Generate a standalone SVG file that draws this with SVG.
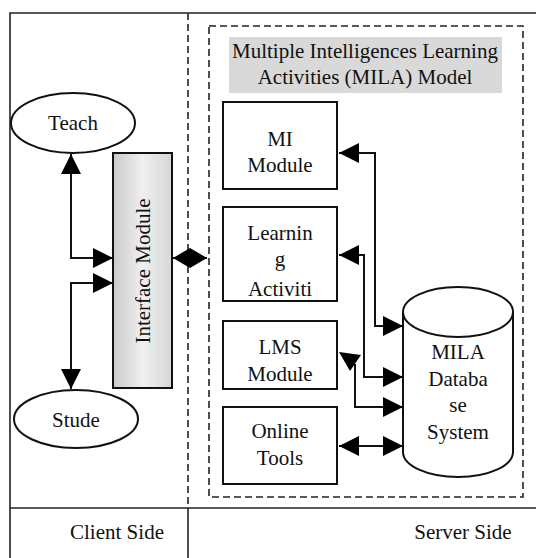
<svg xmlns="http://www.w3.org/2000/svg" width="536" height="558" viewBox="0 0 536 558" font-family="'Liberation Serif', 'DejaVu Serif', serif">
  <style>
    text { font-family: 'Liberation Serif', 'DejaVu Serif', serif; font-size: 21px; fill: #111; text-anchor: middle; }
    .frame { fill: none; stroke: #222; stroke-width: 1.6; }
    .dash { fill: none; stroke: #222; stroke-width: 1.6; stroke-dasharray: 7 4; }
    .box { fill: #fff; stroke: #111; stroke-width: 2; }
    .wire { fill: none; stroke: #111; stroke-width: 2; }
    .tip { fill: #000; }
  </style>
  <defs>
    <linearGradient id="ifaceFill" x1="0" y1="0" x2="1" y2="0">
      <stop offset="0" stop-color="#c9c9c9"/>
      <stop offset="0.5" stop-color="#f0f0f0"/>
      <stop offset="1" stop-color="#d6d6d6"/>
    </linearGradient>
    <marker id="head" markerUnits="userSpaceOnUse" markerWidth="20" markerHeight="20" refX="20" refY="10" orient="auto-start-reverse">
      <path d="M0,0 L20,10 L0,20 Z" fill="#000"/>
    </marker>
    <marker id="halfDiamond" markerUnits="userSpaceOnUse" markerWidth="17" markerHeight="20" refX="17" refY="10" orient="auto-start-reverse">
      <path d="M0,0 L17,10 L0,20 Z" fill="#000"/>
    </marker>
    <clipPath id="learnClip">
      <rect x="224" y="208" width="112" height="92"/>
    </clipPath>
  </defs>

  <!-- page frame and side dividers -->
  <g id="frame">
    <path class="frame" d="M10,558 L10,13 L536,13"/>
    <path class="frame" d="M10,508 L536,508"/>
    <path class="frame" d="M188,508 L188,558"/>
    <path class="dash" d="M188,13 L188,508"/>
    <rect class="dash" x="209" y="26" width="314" height="471"/>
  </g>

  <!-- side labels -->
  <g id="client-side">
    <text x="117" y="539">Client Side</text>
  </g>
  <g id="server-side">
    <text x="463" y="539">Server Side</text>
  </g>

  <!-- model title -->
  <g id="title">
    <rect x="229" y="37" width="273" height="56" fill="#d9d9d9"/>
    <text x="365" y="58">Multiple Intelligences Learning</text>
    <text x="365" y="84">Activities (MILA) Model</text>
  </g>

  <!-- client side actors -->
  <g id="teacher">
    <ellipse class="box" cx="73" cy="123" rx="62" ry="30"/>
    <text x="73" y="130">Teach</text>
  </g>
  <g id="student">
    <ellipse class="box" cx="76" cy="419" rx="62" ry="29"/>
    <text x="76" y="427">Stude</text>
  </g>

  <!-- interface module -->
  <g id="interface-module">
    <rect x="113" y="153" width="59" height="235" fill="url(#ifaceFill)" stroke="#111" stroke-width="2"/>
    <text transform="translate(150,271) rotate(-90)">Interface Module</text>
  </g>

  <!-- server side modules -->
  <g id="mi-module">
    <rect class="box" x="223" y="102" width="114" height="87"/>
    <text x="280" y="146">MI</text>
    <text x="280" y="172">Module</text>
  </g>
  <g id="learning-activities">
    <rect class="box" x="223" y="207" width="114" height="94"/>
    <g clip-path="url(#learnClip)">
      <text x="280" y="240">Learnin</text>
      <text x="280" y="266">g</text>
      <text x="280" y="296">Activiti</text>
    </g>
  </g>
  <g id="lms-module">
    <rect class="box" x="223" y="321" width="114" height="68"/>
    <text x="280" y="354">LMS</text>
    <text x="280" y="381">Module</text>
  </g>
  <g id="online-tools">
    <rect class="box" x="223" y="407" width="114" height="77"/>
    <text x="280" y="438">Online</text>
    <text x="280" y="465">Tools</text>
  </g>

  <!-- database cylinder -->
  <g id="mila-database">
    <path class="box" d="M403,312 L403,452 A55,25 0 0 0 513,452 L513,312"/>
    <ellipse class="box" cx="458" cy="312" rx="55" ry="25"/>
    <text x="458" y="359">MILA</text>
    <text x="458" y="386">Databa</text>
    <text x="458" y="412">se</text>
    <text x="458" y="439">System</text>
  </g>

  <!-- connectors -->
  <g id="connectors">
    <path class="wire" d="M71,154 L71,258 L113,258" marker-start="url(#head)" marker-end="url(#head)"/>
    <path class="wire" d="M113,283 L71,283 L71,389" marker-start="url(#head)" marker-end="url(#head)"/>
    <path class="wire" d="M173,258 L207,258" marker-start="url(#halfDiamond)" marker-end="url(#halfDiamond)"/>
    <path class="wire" d="M403,326 L375,326 L375,153 L339,153" marker-start="url(#head)" marker-end="url(#head)"/>
    <path class="wire" d="M403,377 L364,377 L364,255 L339,255" marker-start="url(#head)" marker-end="url(#head)"/>
    <path class="wire" d="M355,364 L355,407 L403,407" marker-end="url(#head)"/>
    <polygon class="tip" points="339,352 361,355 350,371"/>
    <path class="wire" d="M339,446 L403,446" marker-start="url(#head)" marker-end="url(#head)"/>
  </g>
</svg>
